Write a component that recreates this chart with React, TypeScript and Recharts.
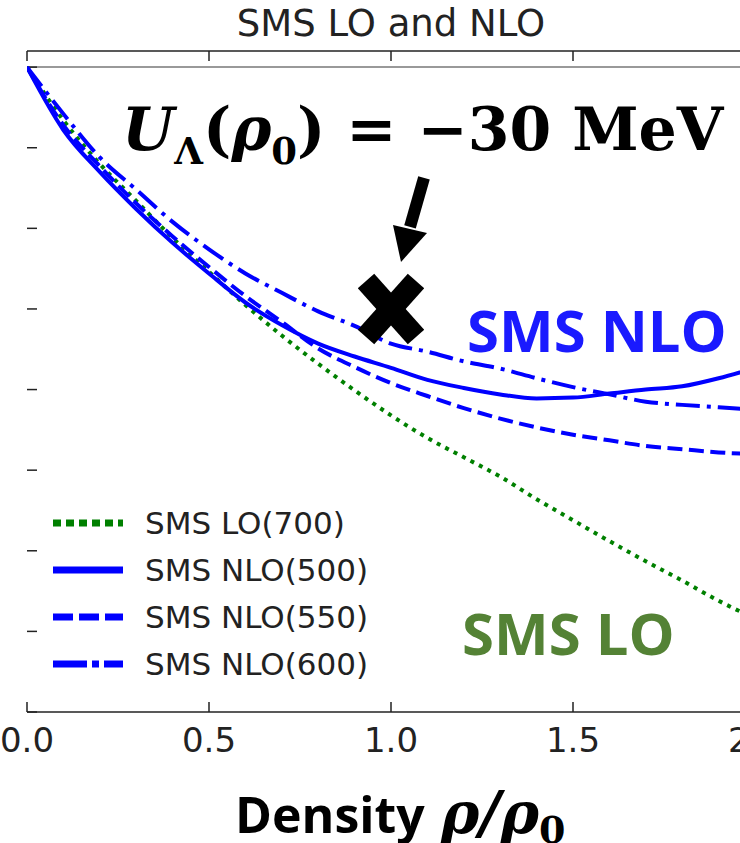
import React from 'react';
import {
  LineChart,
  Line,
  XAxis,
  YAxis,
  ReferenceLine,
  ReferenceDot,
  Legend,
} from 'recharts';

// density rho/rho0
const DENSITY = [0, 0.1, 0.2, 0.3, 0.4, 0.5, 0.6, 0.7, 0.8, 0.9, 1.0, 1.1, 1.2, 1.3, 1.4, 1.5, 1.6, 1.7, 1.8, 1.9, 2.0];

// U_Lambda (MeV)
const LO_700 = [0, -6.6, -12.0, -16.6, -21.2, -25.4, -29.5, -33.3, -36.8, -40.1, -43.2, -46.0, -48.4, -50.8, -53.6, -56.2, -58.8, -61.3, -63.7, -66.2, -68.4];
const NLO_500 = [0, -7.8, -13.0, -17.6, -21.8, -25.6, -29.2, -32.0, -34.3, -35.9, -37.3, -38.8, -39.8, -40.6, -41.1, -41.0, -40.5, -40.0, -39.6, -38.6, -37.3];
const NLO_550 = [0, -7.2, -12.3, -16.9, -21.0, -24.8, -28.4, -31.6, -34.9, -37.2, -39.2, -40.8, -42.3, -43.6, -44.7, -45.6, -46.3, -47.0, -47.4, -47.8, -48.0];
const NLO_600 = [0, -5.8, -11.2, -15.2, -19.2, -22.6, -25.6, -28.0, -30.3, -32.1, -34.3, -35.3, -36.5, -37.4, -38.6, -39.7, -40.6, -41.5, -41.9, -42.2, -42.5];

const X_TICKS = [0, 0.5, 1.0, 1.5, 2.0];
const Y_TICKS = [-80, -70, -60, -50, -40, -30, -20, -10, 0];
const X_DOMAIN = [0, 2];
const Y_DOMAIN = [-80, 2];

const MARK_X = 1.0;
const MARK_Y = -30;

const SERIES = [
  { key: 'lo700', name: 'SMS LO(700)', color: '#008000', dash: '4 5.5', legendDash: '8 5' },
  { key: 'nlo500', name: 'SMS NLO(500)', color: '#0000ff', dash: undefined, legendDash: undefined },
  { key: 'nlo550', name: 'SMS NLO(550)', color: '#0000ff', dash: '15 6.5', legendDash: '20 6' },
  { key: 'nlo600', name: 'SMS NLO(600)', color: '#0000ff', dash: '24 7 4 7', legendDash: '34 5 7 5' },
];

const data = DENSITY.map((x, i) => ({
  x,
  lo700: LO_700[i],
  nlo500: NLO_500[i],
  nlo550: NLO_550[i],
  nlo600: NLO_600[i],
}));

const CHART_W = 780;
const CHART_H = 843;
const PLOT_LEFT = 27;
const PLOT_TOP = 51;
const PLOT_BOTTOM = 712;
const PLOT_RIGHT = 755;
const BOTTOM_AXIS_H = 30;

// inward tick length (10px) expressed in axis units
const X_UNITS_PER_PX = (X_DOMAIN[1] - X_DOMAIN[0]) / (PLOT_RIGHT - PLOT_LEFT);
const Y_UNITS_PER_PX = (Y_DOMAIN[1] - Y_DOMAIN[0]) / (PLOT_BOTTOM - PLOT_TOP);
const TICK_PX = 10;

const axisColor = '#222';
const sans = '"DejaVu Sans", sans-serif';

const renderLegend = () => (
  <svg width={420} height={190} style={{ display: 'block' }}>
    {SERIES.map((s, i) => {
      const cy = 23 + i * 47;
      return (
        <g key={s.key}>
          <line x1={53} x2={123} y1={cy} y2={cy} stroke={s.color} strokeWidth={7} strokeDasharray={s.legendDash} />
          <text x={145} y={cy + 11} fontSize={31} fontFamily={sans} fill="#222">
            {s.name}
          </text>
        </g>
      );
    })}
  </svg>
);

// big black cross with an arrow pointing at it
const CrossMarker = (props: any) => {
  const { cx, cy } = props;
  if (cx == null || cy == null) return null;
  return (
    <g>
      <line x1={cx - 25} y1={cy - 28} x2={cx + 25} y2={cy + 28} stroke="#000" strokeWidth={22} />
      <line x1={cx + 25} y1={cy - 28} x2={cx - 25} y2={cy + 28} stroke="#000" strokeWidth={22} />
      <line x1={cx + 33} y1={cy - 131} x2={cx + 19} y2={cy - 82} stroke="#000" strokeWidth={12} />
      <polygon points={`${cx + 10},${cy - 47} ${cx + 2},${cy - 84} ${cx + 36},${cy - 76}`} fill="#000" />
    </g>
  );
};

const App: React.FC = () => {
  const xt = TICK_PX * X_UNITS_PER_PX;
  const yt = TICK_PX * Y_UNITS_PER_PX;
  return (
    <div style={{ position: 'fixed', left: 0, top: 0, width: 740, height: 843, overflow: 'hidden', background: '#fff' }}>
      <LineChart
        width={CHART_W}
        height={CHART_H}
        data={data}
        margin={{
          top: PLOT_TOP,
          right: CHART_W - PLOT_RIGHT,
          bottom: CHART_H - PLOT_BOTTOM - BOTTOM_AXIS_H,
          left: PLOT_LEFT,
        }}
      >
        <XAxis
          type="number"
          dataKey="x"
          domain={X_DOMAIN}
          ticks={X_TICKS}
          tickFormatter={(v: number) => v.toFixed(1)}
          height={BOTTOM_AXIS_H}
          tickLine={false}
          tickSize={6}
          tickMargin={10}
          stroke={axisColor}
          strokeWidth={1.5}
          tick={{ fontSize: 34, fontFamily: sans, fill: '#222' }}
          allowDataOverflow
        />
        <YAxis
          type="number"
          domain={Y_DOMAIN}
          ticks={Y_TICKS}
          width={0}
          tickLine={false}
          tick={false}
          stroke={axisColor}
          strokeWidth={1.5}
          allowDataOverflow
        />
        {/* top frame */}
        <ReferenceLine y={Y_DOMAIN[1]} stroke={axisColor} strokeWidth={1.5} />
        <ReferenceLine y={0} stroke="#999" strokeWidth={2} />
        {/* inward ticks, matplotlib style */}
        {X_TICKS.map((t) => (
          <ReferenceLine
            key={`xb${t}`}
            segment={[{ x: t, y: Y_DOMAIN[0] }, { x: t, y: Y_DOMAIN[0] + yt }]}
            stroke={axisColor}
            strokeWidth={1.5}
          />
        ))}
        {X_TICKS.map((t) => (
          <ReferenceLine
            key={`xt${t}`}
            segment={[{ x: t, y: Y_DOMAIN[1] }, { x: t, y: Y_DOMAIN[1] - yt }]}
            stroke={axisColor}
            strokeWidth={1.5}
          />
        ))}
        {Y_TICKS.map((t) => (
          <ReferenceLine
            key={`yl${t}`}
            segment={[{ x: X_DOMAIN[0], y: t }, { x: X_DOMAIN[0] + xt, y: t }]}
            stroke={axisColor}
            strokeWidth={1.5}
          />
        ))}
        {SERIES.map((s) => (
          <Line
            key={s.key}
            dataKey={s.key}
            name={s.name}
            type="monotone"
            stroke={s.color}
            strokeWidth={4}
            strokeDasharray={s.dash}
            dot={false}
            isAnimationActive={false}
          />
        ))}
        <ReferenceDot x={MARK_X} y={MARK_Y} r={30} shape={CrossMarker} />
        <Legend
          layout="vertical"
          verticalAlign="middle"
          align="center"
          wrapperStyle={{ left: 0, top: 500, width: 420 }}
          content={renderLegend}
        />
      </LineChart>

      <svg width={740} height={843} style={{ position: 'absolute', left: 0, top: 0, pointerEvents: 'none' }}>
        <text x={391} y={36} textAnchor="middle" fontSize={37} fontFamily={sans} fill="#222">
          SMS LO and NLO
        </text>
        <text x={122} y={150} fontSize={60} fontFamily='"DejaVu Serif", serif' fontWeight="bold" fill="#000">
          <tspan fontStyle="italic">U</tspan>
          <tspan fontSize={37} dy={14}>Λ</tspan>
          <tspan dy={-14}>(</tspan>
          <tspan fontStyle="italic">ρ</tspan>
          <tspan fontSize={37} dy={14}>0</tspan>
          <tspan dy={-14}>) = −30 MeV</tspan>
        </text>
        <text x={467} y={352} fontSize={58} fontFamily='"Open Sans", sans-serif' fontWeight="bold" fill="#1a1aff">
          SMS NLO
        </text>
        <text x={462} y={655} fontSize={58} fontFamily='"Open Sans", sans-serif' fontWeight="bold" fill="#548235">
          SMS LO
        </text>
        <text x={235} y={833} fontSize={50} fontFamily='"Open Sans", sans-serif' fontWeight="bold" fill="#000">
          Density
          <tspan dx={16} fontFamily='"DejaVu Serif", serif' fontStyle="italic" fontSize={58}>ρ/ρ</tspan>
          <tspan fontFamily='"DejaVu Serif", serif' fontSize={38} dy={10}>0</tspan>
        </text>
      </svg>
    </div>
  );
};

export default App;
